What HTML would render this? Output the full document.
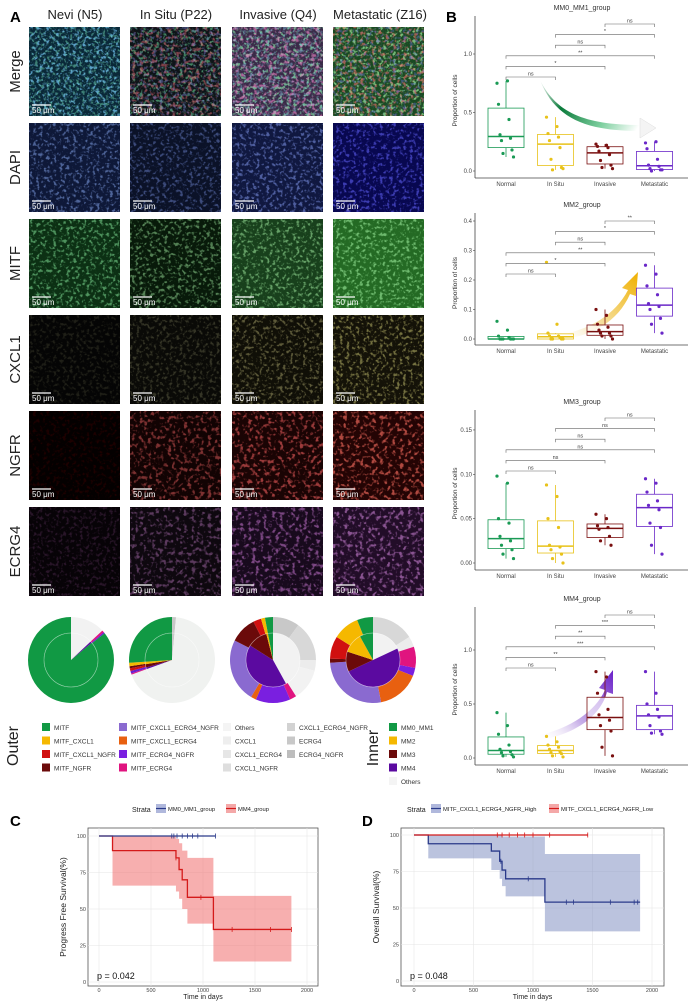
<!DOCTYPE html>
<html><head><meta charset="utf-8">
<style>
html,body{margin:0;padding:0;background:#fff;}
svg{display:block;font-family:"Liberation Sans",sans-serif;}
</style></head>
<body>
<svg id="fig" width="692" height="1002" viewBox="0 0 692 1002" xmlns="http://www.w3.org/2000/svg">
<defs id="defs">
  <linearGradient id="arrGreen" x1="0" y1="0" x2="1" y2="0.3"><stop offset="0" stop-color="#0a7a3a" stop-opacity="0"/><stop offset="0.3" stop-color="#0a7a3a"/><stop offset="0.7" stop-color="#7fd0a0"/><stop offset="1" stop-color="#ffffff"/></linearGradient>
  <linearGradient id="arrYellow" x1="0" y1="1" x2="1" y2="0"><stop offset="0" stop-color="#ffffff" stop-opacity="0"/><stop offset="0.4" stop-color="#f5e0a0"/><stop offset="1" stop-color="#f0b000"/></linearGradient>
  <linearGradient id="arrPurple" x1="0" y1="1" x2="1" y2="0"><stop offset="0" stop-color="#ffffff" stop-opacity="0"/><stop offset="0.4" stop-color="#c8b0e8"/><stop offset="1" stop-color="#6a20c8"/></linearGradient>
</defs>
<g id="panelA"></g>
<g id="pies"></g>
<g id="legend"></g>
<g id="panelB"></g>
<g id="panelC"></g>
<g id="panelD"></g>
</svg>
<script>
// ---------- data ----------
const colHeaders = ['Nevi (N5)','In Situ (P22)','Invasive (Q4)','Metastatic (Z16)'];
const rowLabels = ['Merge','DAPI','MITF','CXCL1','NGFR','ECRG4'];
const categories = ['Normal','In Situ','Invasive','Metastatic'];

const mm01Points = [[0.75,0.77,0.57,0.44,0.31,0.28,0.26,0.18,0.15,0.12],[0.46,0.38,0.32,0.29,0.26,0.2,0.1,0.03,0.01,0.02],[0.23,0.22,0.21,0.2,0.17,0.14,0.09,0.05,0.03,0.02],[0.24,0.25,0.19,0.1,0.05,0.04,0.02,0.01,0,0.01]];
const mm2Points = [[0.06,0.03,0.01,0.005,0,0,0,0,0,0],[0.26,0.05,0.02,0.01,0.01,0.005,0,0,0,0],[0.1,0.08,0.05,0.04,0.03,0.02,0.02,0.01,0.01,0],[0.25,0.22,0.18,0.15,0.12,0.11,0.1,0.07,0.05,0.02]];
const mm3Points = [[0.098,0.09,0.05,0.045,0.03,0.025,0.02,0.015,0.01,0.005],[0.088,0.075,0.05,0.04,0.02,0.018,0.015,0.01,0.005,0],[0.055,0.05,0.042,0.04,0.038,0.03,0.025,0.02],[0.095,0.09,0.08,0.07,0.065,0.06,0.045,0.04,0.02,0.01]];
const mm4Points = [[0.42,0.3,0.22,0.12,0.08,0.06,0.05,0.03,0.02,0.01],[0.2,0.15,0.12,0.1,0.08,0.06,0.05,0.04,0.02,0.01],[0.8,0.75,0.6,0.45,0.4,0.35,0.3,0.25,0.1,0.02],[0.8,0.6,0.5,0.45,0.4,0.38,0.3,0.25,0.23,0.22]];
const mm01Ticks = [0,0.5,1.0];
const mm2Ticks = [0,0.1,0.2,0.3,0.4];
const mm3Ticks = [0,0.05,0.10,0.15];
const mm4Ticks = [0,0.5,1.0];
const bracketPairs = [[2,3],[1,3],[1,2],[0,3],[0,2],[0,1]];
const mm01Sig = ['ns','*','ns','**','*','ns'];
const mm2Sig = ['**','*','ns','**','*','ns'];
const mm3Sig = ['ns','ns','ns','ns','ns','ns'];
const mm4Sig = ['ns','***','**','***','**','ns'];

const pieOuter = [
 [['#f2f2f2',0.13],['#e0147f',0.008],['#6a1fd0',0.005],['#119944',0.857]],
 [['#c8c8c8',0.015],['#f0f2f0',0.68],['#e0147f',0.004],['#6a1fd0',0.01],['#d01010',0.01],['#6b0a0a',0.008],['#f5b800',0.013],['#119944',0.26]],
 [['#c8c8c8',0.1],['#d8d8d8',0.15],['#ececec',0.04],['#f2f2f2',0.12],['#e0147f',0.025],['#7a1fe0',0.13],['#e86010',0.02],['#8a6ad0',0.24],['#6b0a0a',0.1],['#d01010',0.03],['#f5b800',0.015],['#119944',0.03]],
 [['#d8d8d8',0.16],['#ececec',0.04],['#e0147f',0.08],['#7a1fe0',0.03],['#e86010',0.16],['#8a6ad0',0.27],['#6b0a0a',0.015],['#d01010',0.085],['#f5b800',0.1],['#119944',0.06]]
];
const pieInner = [
 [['#f2f2f2',0.13],['#5b0aa0',0.01],['#119944',0.86]],
 [['#c8c8c8',0.015],['#f0f2f0',0.68],['#5b0aa0',0.01],['#6b0a0a',0.02],['#f5b800',0.015],['#119944',0.26]],
 [['#f2f2f2',0.42],['#5b0aa0',0.42],['#6b0a0a',0.12],['#f5b800',0.01],['#119944',0.03]],
 [['#f2f2f2',0.18],['#5b0aa0',0.5],['#6b0a0a',0.12],['#f5b800',0.12],['#119944',0.08]]
];

// KM data (time, survival %)
const cBlueTimes = [0,1120];
const cBlueSurv = [100,100];
const cBlueCensor = [700,720,750,800,850,900,950,1120];
const cRedTimes = [0,130,650,740,770,800,850,1100,1850];
const cRedSurv = [100,90,90,85,77,70,58,36,36];
const cRedLow = [100,66,66,62,57,50,40,14,14];
const cRedHigh = [100,100,100,98,95,90,85,59,59];
const cRedCensor = [740,980,1280,1650,1850];
const dRedTimes = [0,1460];
const dRedSurv = [100,100];
const dRedCensor = [700,740,800,870,930,1000,1140,1460];
const dBlueTimes = [0,120,650,720,740,770,1100,1900];
const dBlueSurv = [100,94,89,82,76,70,54,54];
const dBlueLow = [100,84,76,70,65,58,34,34];
const dBlueHigh = [100,100,100,100,99,99,87,87];
const dBlueCensor = [730,960,1280,1340,1650,1850,1880];
const kmXTicks = [0,500,1000,1500,2000];
const kmYTicks = [0,25,50,75,100];

// ---------- helpers ----------
const NS='http://www.w3.org/2000/svg';
function mk(tag, attrs, parent){const e=document.createElementNS(NS,tag);for(const k in attrs)e.setAttribute(k,attrs[k]);if(parent)parent.appendChild(e);return e;}
function txt(parent,x,y,s,size,opts){const t=mk('text',Object.assign({x:x,y:y,'font-size':size,fill:'#222'},opts||{}),parent);t.textContent=s;return t;}
const defs=document.getElementById('defs');

// ---------- panel A ----------
const A=document.getElementById('panelA');
const lblA=txt(A,10,22,'A',15,{'font-weight':'bold',fill:'#000'});


const tileX=[29,130,232,333], tileY=[27,123,219,315,411,507], TW=91, TH=89;
const colCenters=[75,176,278,380];
colHeaders.forEach((h,i)=>{const t=txt(A,colCenters[i],19,h,13,{'text-anchor':'middle',fill:'#222'});
 
 });
rowLabels.forEach((r,i)=>{const cy=tileY[i]+TH/2;const t=txt(A,20,cy,r,15,{'text-anchor':'middle',transform:`rotate(-90 20 ${cy})`,fill:'#222'});
 
 });
const tiles=[
 [['#0a2838',[[40,130,210,0.8,0.3],[40,170,110,0.5,0.34]]],['#0e1418',[[40,190,90,0.55,0.3],[220,40,50,0.5,0.25],[60,60,200,0.4,0.3]]],['#3a2a48',[[60,200,100,0.7,0.3],[235,60,150,0.6,0.26],[60,160,220,0.4,0.3]]],['#1a4a22',[[90,220,90,0.7,0.3],[230,40,40,0.6,0.28],[40,40,220,0.4,0.3]]]],
 [['#0e1838',[[50,80,180,0.6,0.3]]],['#0b1228',[[40,60,160,0.5,0.3]]],['#101840',[[50,70,190,0.6,0.3]]],['#080850',[[30,30,230,0.6,0.3]]]],
 [['#0c3014',[[50,170,70,0.6,0.3]]],['#081a0a',[[90,210,90,0.5,0.28]]],['#18401c',[[80,190,80,0.6,0.3]]],['#246a24',[[90,220,90,0.6,0.3]]]],
 [['#050505',[[60,60,30,0.2,0.3]]],['#0a0a07',[[80,80,40,0.3,0.3]]],['#100f07',[[160,150,60,0.4,0.3]]],['#141208',[[210,200,60,0.45,0.3]]]],
 [['#040000',[[60,0,0,0.2,0.3]]],['#120303',[[210,30,30,0.5,0.25]]],['#1a0404',[[230,30,30,0.6,0.25]]],['#240404',[[245,40,30,0.65,0.25]]]],
 [['#070307',[[110,30,110,0.2,0.3]]],['#0e080f',[[160,60,170,0.4,0.25]]],['#180a1d',[[190,60,210,0.5,0.25]]],['#220d28',[[190,70,210,0.55,0.25]]]]
];
let fid=0;
tiles.forEach((row,ri)=>row.forEach((t,ci)=>{
 const g=mk('g',{},A);
 
 
 const x=tileX[ci],y=tileY[ri];
 mk('rect',{x:x,y:y,width:TW,height:TH,fill:t[0]},g);
 t[1].forEach(o=>{
  const id='f'+(fid++);
  const f=mk('filter',{id:id,x:0,y:0,width:'100%',height:'100%'},defs);
  mk('feTurbulence',{type:'fractalNoise',baseFrequency:o[4],numOctaves:2,seed:fid*7},f);
  mk('feColorMatrix',{type:'matrix',values:`0 0 0 0 ${o[0]/255} 0 0 0 0 ${o[1]/255} 0 0 0 0 ${o[2]/255} 5 0 0 0 -2.6`},f);
  mk('rect',{x:x,y:y,width:TW,height:TH,filter:`url(#${id})`,opacity:Math.min(1,o[3])},g);
 });
 mk('line',{x1:x+3,y1:y+TH-11,x2:x+22,y2:y+TH-11,stroke:'#fff','stroke-width':1.2},g);
 txt(g,x+3,y+TH-3,'50 μm',8,{fill:'#fff'});
}));

// ---------- pies ----------
const P=document.getElementById('pies');
const pieCx=[71,172,273,373], pieCy=660, Ro=43, Ri=27;
function arcPath(cx,cy,r0,r1,a0,a1){
 const p=(r,a)=>[cx+r*Math.sin(a*2*Math.PI),cy-r*Math.cos(a*2*Math.PI)];
 const large=(a1-a0)>0.5?1:0;
 const [x1,y1]=p(r1,a0),[x2,y2]=p(r1,a1);
 if(r0===0) return `M${cx},${cy}L${x1},${y1}A${r1},${r1} 0 ${large} 1 ${x2},${y2}Z`;
 const [x3,y3]=p(r0,a1),[x4,y4]=p(r0,a0);
 return `M${x1},${y1}A${r1},${r1} 0 ${large} 1 ${x2},${y2}L${x3},${y3}A${r0},${r0} 0 ${large} 0 ${x4},${y4}Z`;
}
pieCx.forEach((cx,i)=>{
 const g=mk('g',{},P);
 
 
 let a=0; pieOuter[i].forEach(s=>{const p=mk('path',{d:arcPath(cx,pieCy,Ri,Ro,a,Math.min(a+s[1],0.99999)),fill:s[0]},g);
  
   a+=s[1];});
 a=0; pieInner[i].forEach(s=>{const p=mk('path',{d:arcPath(cx,pieCy,0,Ri,a,Math.min(a+s[1],0.99999)),fill:s[0]},g);
  
   a+=s[1];});
 mk('circle',{cx:cx,cy:pieCy,r:Ri,fill:'none',stroke:'rgba(255,255,255,0.45)','stroke-width':0.7},g);
});

// ---------- legend ----------
const L=document.getElementById('legend');
const tOut=txt(L,18,746,'Outer',16,{'text-anchor':'middle',transform:'rotate(-90 18 746)'});


const tIn=txt(L,378,748,'Inner',16,{'text-anchor':'middle',transform:'rotate(-90 378 748)'});


const legCols=[
 [42,[['#119944','MITF'],['#f5b800','MITF_CXCL1'],['#d01010','MITF_CXCL1_NGFR'],['#6b0a0a','MITF_NGFR']]],
 [119,[['#8a6ad0','MITF_CXCL1_ECRG4_NGFR'],['#e86010','MITF_CXCL1_ECRG4'],['#7a1fe0','MITF_ECRG4_NGFR'],['#e0147f','MITF_ECRG4']]],
 [223,[['#f4f4f4','Others'],['#eeeeee','CXCL1'],['#e6e6e6','CXCL1_ECRG4'],['#dedede','CXCL1_NGFR']]],
 [287,[['#d2d2d2','CXCL1_ECRG4_NGFR'],['#c8c8c8','ECRG4'],['#bdbdbd','ECRG4_NGFR']]],
 [389,[['#119944','MM0_MM1'],['#f5b800','MM2'],['#6b0a0a','MM3'],['#5b0aa0','MM4'],['#f4f4f4','Others']]]
];
legCols.forEach(c=>c[1].forEach((it,j)=>{
 const g=mk('g',{},L);
 
 
 const y=723+j*13.5;
 mk('rect',{x:c[0],y:y,width:8,height:8,fill:it[0]},g);
 txt(g,c[0]+12,y+7,it[1],6.5,{fill:'#333'});
}));

// ---------- panel B ----------
const B=document.getElementById('panelB');
const lblB=txt(B,446,22,'B',15,{'font-weight':'bold',fill:'#000'});


const boxColors=['#1a9a55','#e8c21a','#7a1010','#6a28c8'];
const xAxisL=475, xAxisR=688, catX0=506, catStep=49.5;
function xCat(i){return catX0+i*catStep;}
function quant(arr,q){const s=[...arr].sort((a,b)=>a-b);const p=(s.length-1)*q;const lo=Math.floor(p),hi=Math.ceil(p);return s[lo]+(s[hi]-s[lo])*(p-lo);}
function boxChart(name,title,titleY,y0,scale,axisY,points,ticks,dec,sig,arrow){
 const g=mk('g',{},B);
 
 
 const yv=v=>y0-v*scale;
 const tt=txt(g,582,titleY,title,7,{'text-anchor':'middle',fill:'#333'});
 
 
 const yt=txt(g,457,(y0+titleY)/2+10,'Proportion of cells',6.5,{'text-anchor':'middle',transform:`rotate(-90 457 ${(y0+titleY)/2+10})`,fill:'#333'});
 
 
 mk('line',{x1:xAxisL,y1:titleY+6,x2:xAxisL,y2:axisY,stroke:'#444','stroke-width':0.8},g);
 mk('line',{x1:xAxisL,y1:axisY,x2:xAxisR,y2:axisY,stroke:'#444','stroke-width':0.8},g);
 ticks.forEach(t=>{mk('line',{x1:xAxisL-2,y1:yv(t),x2:xAxisL,y2:yv(t),stroke:'#444','stroke-width':0.6},g);
  const lt=txt(g,xAxisL-3,yv(t)+2,t.toFixed(dec),6,{'text-anchor':'end',fill:'#444'});
  
  });
 categories.forEach((c,i)=>{const lt=txt(g,xCat(i),axisY+8,c,6,{'text-anchor':'middle',fill:'#444'});
  
  });
 if(arrow) arrow(g);
 points.forEach((pts,i)=>{
  const q1=quant(pts,0.25),md=quant(pts,0.5),q3=quant(pts,0.75),iqr=q3-q1;
  const lo=Math.min(...pts.filter(v=>v>=q1-1.5*iqr)),hi=Math.max(...pts.filter(v=>v<=q3+1.5*iqr));
  const x=xCat(i),w=36,col=boxColors[i];
  const bg=mk('g',{},g);
  
  
  mk('line',{x1:x,y1:yv(hi),x2:x,y2:yv(q3),stroke:col,'stroke-width':0.8},bg);
  mk('line',{x1:x,y1:yv(q1),x2:x,y2:yv(lo),stroke:col,'stroke-width':0.8},bg);
  mk('rect',{x:x-w/2,y:yv(q3),width:w,height:Math.max(0.5,yv(q1)-yv(q3)),fill:'#fff','fill-opacity':0.6,stroke:col,'stroke-width':0.8},bg);
  mk('line',{x1:x-w/2,y1:yv(md),x2:x+w/2,y2:yv(md),stroke:col,'stroke-width':1.5},bg);
  pts.forEach((v,j)=>{const c=mk('circle',{cx:x+((j*7)%13-6)*1.5,cy:yv(v),r:1.6,fill:col},bg);
   
   });
 });
 bracketPairs.forEach((bp,k)=>{
  const by=titleY+14+k*10.6;
  const x1=xCat(bp[0]),x2=xCat(bp[1]);
  mk('path',{d:`M${x1},${by+3}V${by}H${x2}V${by+3}`,fill:'none',stroke:'#666','stroke-width':0.6},g);
  const lt=txt(g,(x1+x2)/2,by-1.5,sig[k],5.5,{'text-anchor':'middle',fill:'#444'});
  
  
 });
}
boxChart('mm0-mm1-boxplot','MM0_MM1_group',10,171,117,178,mm01Points,mm01Ticks,1,mm01Sig,g=>{
 const p=mk('path',{d:'M540,80 C555,110 580,125 640,125 L640,118 L656,128 L640,138 L640,131 C585,131 555,118 540,80Z',fill:'url(#arrGreen)'},g);
 
 
 mk('path',{d:'M640,118 L656,128 L640,138Z',fill:'#f4f4f4',stroke:'#ddd','stroke-width':0.5},g);
});
boxChart('mm2-boxplot','MM2_group',207,339,295,345,mm2Points,mm2Ticks,1,mm2Sig,g=>{
 const p=mk('path',{d:'M555,336 C590,330 615,315 628,290 L622,288 L638,272 L636,296 L630,294 C618,322 590,338 555,340Z',fill:'url(#arrYellow)'},g);
 
 
});
boxChart('mm3-boxplot','MM3_group',404,563,887,570,mm3Points,mm3Ticks,2,mm3Sig,null);
boxChart('mm4-boxplot','MM4_group',601,758,108,765,mm4Points,mm4Ticks,1,mm4Sig,g=>{
 const p=mk('path',{d:'M540,735 C570,728 595,712 605,690 L599,688 L613,670 L613,694 L607,692 C600,718 572,735 540,740Z',fill:'url(#arrPurple)'},g);
 
 
});

// ---------- KM plots ----------
function km(gid,label,lx,rect,x0px,x2000px,y0px,y100px,yTitle,pText,legend,series){
 const g=document.getElementById(gid);
 const xs=t=>x0px+(x2000px-x0px)*t/2000, ys=v=>y0px-(y0px-y100px)*v/100;
 const lb=txt(g,lx,826,label,15,{'font-weight':'bold',fill:'#000'});
 
 
 mk('rect',{x:rect[0],y:rect[1],width:rect[2],height:rect[3],fill:'#fff',stroke:'#555','stroke-width':0.8},g);
 kmXTicks.forEach(t=>{mk('line',{x1:xs(t),y1:rect[1],x2:xs(t),y2:rect[1]+rect[3],stroke:'#e6e6e6','stroke-width':0.6},g);
  const lt=txt(g,xs(t),rect[1]+rect[3]+6,String(t),5.5,{'text-anchor':'middle',fill:'#444'});
  
  });
 kmYTicks.forEach(t=>{mk('line',{x1:rect[0],y1:ys(t),x2:rect[0]+rect[2],y2:ys(t),stroke:'#e6e6e6','stroke-width':0.6},g);
  const lt=txt(g,rect[0]-2,ys(t)+2,String(t),5.5,{'text-anchor':'end',fill:'#444'});
  
  });
 const xt=txt(g,rect[0]+rect[2]/2,rect[1]+rect[3]+13,'Time in days',7,{'text-anchor':'middle',fill:'#222'});
 
 
 const ycy=rect[1]+rect[3]/2, yx=rect[0]-22;
 const yt=txt(g,yx,ycy,yTitle,8.5,{'text-anchor':'middle',transform:`rotate(-90 ${yx} ${ycy})`,fill:'#222'});
 
 
 const pt=txt(g,rect[0]+9,rect[1]+rect[3]-7,pText,9,{fill:'#111'});
 
 
 const lg=mk('g',{},g);
 
 
 txt(lg,legend.x,812,'Strata',7,{fill:'#222'});
 let lxp=legend.x+24;
 legend.items.forEach(it=>{mk('rect',{x:lxp,y:804,width:10,height:9,fill:it[2]},lg);
  mk('line',{x1:lxp,y1:808.5,x2:lxp+10,y2:808.5,stroke:it[0],'stroke-width':1.2},lg);
  txt(lg,lxp+12,811,it[1],5.8,{fill:'#222'});lxp+=it[3];});
 series.forEach(s=>{
  const sg=mk('g',{},g);
  
  
  if(s.low){const n=s.times.length;
   let up=`M${xs(s.times[0])},${ys(s.high[0])}`;
   for(let i=1;i<n;i++){up+=`H${xs(s.times[i])}V${ys(s.high[i])}`;}
   let dn='';for(let i=n-1;i>=1;i--){dn+=`H${xs(s.times[i])}V${ys(s.low[i-1])}`;}
   const d=up+`V${ys(s.low[n-1])}`+dn+`H${xs(s.times[0])}Z`;
   mk('path',{d:d,fill:s.fill},sg);}
  let d=`M${xs(s.times[0])},${ys(s.surv[0])}`;
  for(let i=1;i<s.times.length;i++){d+=`H${xs(s.times[i])}V${ys(s.surv[i])}`;}
  mk('path',{d:d,fill:'none',stroke:s.color,'stroke-width':1.3},sg);
  s.censor.forEach(t=>{let v=s.surv[0];for(let i=0;i<s.times.length;i++){if(s.times[i]<=t)v=s.surv[i];}
   mk('line',{x1:xs(t),y1:ys(v)-2.5,x2:xs(t),y2:ys(v)+2.5,stroke:s.color,'stroke-width':0.8},sg);});
 });
}
km('panelC','C',10,[88,828,230,158],99,307,982,836,'Progress Free Survival(%)','p = 0.042',
 {x:132,items:[['#2a3a8a','MM0_MM1_group','#b0b8dc',70],['#d41a1a','MM4_group','#f4a8a8',60]]},
 [{name:'mm4-curve',times:cRedTimes,surv:cRedSurv,low:cRedLow,high:cRedHigh,censor:cRedCensor,color:'#d41a1a',fill:'rgba(240,110,110,0.55)'},
  {name:'mm0-mm1-curve',times:cBlueTimes,surv:cBlueSurv,censor:cBlueCensor,color:'#2a3a8a'}]);
km('panelD','D',362,[401,828,263,158],414,652,981,835,'Overall Survival(%)','p = 0.048',
 {x:407,items:[['#2a3a8a','MITF_CXCL1_ECRG4_NGFR_High','#b0b8dc',118],['#d41a1a','MITF_CXCL1_ECRG4_NGFR_Low','#f4a8a8',110]]},
 [{name:'high-group-curve',times:dBlueTimes,surv:dBlueSurv,low:dBlueLow,high:dBlueHigh,censor:dBlueCensor,color:'#2a3a8a',fill:'rgba(120,135,190,0.5)'},
  {name:'low-group-curve',times:dRedTimes,surv:dRedSurv,censor:dRedCensor,color:'#d41a1a'}]);
</script>
</body></html>
